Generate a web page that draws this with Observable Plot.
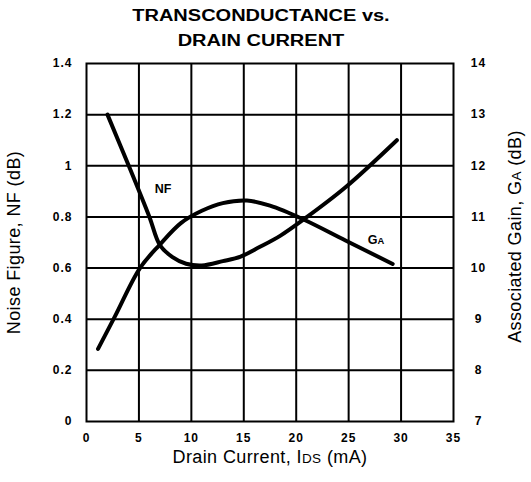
<!DOCTYPE html>
<html>
<head>
<meta charset="utf-8">
<script src="https://cdn.jsdelivr.net/npm/d3@7"></script>
<script src="https://cdn.jsdelivr.net/npm/@observablehq/plot@0.6"></script>
<style>
  body { margin: 0; background: #fff; width: 531px; height: 482px; overflow: hidden;
         font-family: "Liberation Sans", Arial, Helvetica, sans-serif; }
  #title { height: 52px; text-align: center; padding-right: 10px; box-sizing: border-box; }
  #title span { display: inline-block; font-weight: bold; font-size: 16px; line-height: 25px;
                transform: scaleX(1.25); padding-top: 3px; color: #000; }
  #chart svg g[aria-label$="tick label"] { letter-spacing: 1px; }
  #chart svg g.axis-title { letter-spacing: 0.4px; }
</style>
</head>
<body>
<div id="title"><span>TRANSCONDUCTANCE vs.<br>DRAIN CURRENT</span></div>
<div id="chart"></div>
<script>
// ---- data ----
const xTicks  = [0, 5, 10, 15, 20, 25, 30, 35];          // Drain current (mA)
const nfTicks = [0, 0.2, 0.4, 0.6, 0.8, 1.0, 1.2, 1.4];  // Noise figure (dB)
const gaTicks = [7, 8, 9, 10, 11, 12, 13, 14];           // Associated gain (dB)

const nfCurrent = [2, 4.03, 6.0, 7, 8.2, 9.5, 11, 13, 14.7, 16.5, 18.5, 20.7, 24.7, 29.6];
const nfValues  = [1.2, 1.0, 0.8, 0.69, 0.643, 0.617, 0.61, 0.627, 0.645, 0.682, 0.727, 0.79, 0.916, 1.1];

const gaCurrent = [1.1, 2.7, 5.1, 7, 9, 11, 13, 15.3, 17.5, 20.7, 24.7, 29.2];
const gaValues  = [8.42, 9.05, 10.0, 10.46, 10.88, 11.12, 11.27, 11.32, 11.22, 10.95, 10.54, 10.08];

const curveLabels = ["NF", "GA"];
const labelCurrent = [7.3, 27.6];
const labelNF = [0.91, 0.708];

const xTitle = "Drain Current, IDS (mA)";
const yLeftTitle = "Noise Figure, NF (dB)";
const yRightTitle = "Associated Gain, GA (dB)";

// gain (dB) mapped onto the noise-figure scale used by the right axis
const gaToNF = g => (g - 7) / 5;

const nfData = nfCurrent.map((x, i) => ({x, y: nfValues[i]}));
const gaData = gaCurrent.map((x, i) => ({x, ga: gaValues[i]}));
const labelData = curveLabels.map((t, i) => ({t, x: labelCurrent[i], y: labelNF[i]}));

const tickFont = {fontSize: 12, fontWeight: "bold"};
const titleFont = {fontSize: 18, fill: "black", textAnchor: "middle", className: "axis-title"};

const chart = Plot.plot({
  width: 531,
  height: 430,
  marginTop: 11,
  marginBottom: 61,
  marginLeft: 86,
  marginRight: 78,
  x: {domain: [0, 35]},
  y: {domain: [0, 1.4]},
  style: {fontFamily: "'Liberation Sans', Arial, Helvetica, sans-serif", color: "black", background: "white"},
  marks: [
    Plot.ruleX(xTicks.slice(1, -1), {stroke: "black", strokeWidth: 2}),
    Plot.ruleY(nfTicks.slice(1, -1), {stroke: "black", strokeWidth: 2}),
    Plot.frame({stroke: "black", strokeWidth: 2}),
    Plot.axisX(xTicks, {tickSize: 0, tickPadding: 12, label: null, ...tickFont}),
    Plot.axisY(nfTicks, {anchor: "left", tickSize: 0, tickPadding: 14, label: null,
      tickFormat: d => String(d), ...tickFont}),
    Plot.axisY(gaTicks.map(gaToNF), {anchor: "right", tickSize: 0, tickPadding: 25, label: null,
      textAnchor: "middle", tickFormat: d => String(Math.round(d * 5 + 7)), ...tickFont}),
    Plot.line(nfData, {x: "x", y: "y", stroke: "black", strokeWidth: 4, curve: "catmull-rom", strokeLinecap: "round"}),
    Plot.line(gaData, {x: "x", y: d => gaToNF(d.ga), stroke: "black", strokeWidth: 4, curve: "catmull-rom", strokeLinecap: "round"}),
    Plot.text(labelData, {x: "x", y: "y", text: "t", fontSize: 12.5, fontWeight: "bold", fill: "black"}),
    Plot.text([xTitle], {frameAnchor: "bottom", dy: 41, text: d => d, ...titleFont}),
    Plot.text([yLeftTitle], {frameAnchor: "left", dx: -72, rotate: -90, text: d => d, ...titleFont}),
    Plot.text([yRightTitle], {frameAnchor: "right", dx: 62, dy: -6, rotate: -90, text: d => d, ...titleFont})
  ]
});

// small-capital subscripts (IDS, GA)
const rich = {
  [xTitle]: [["Drain Current, I", 1], ["DS", 0.75], [" (mA)", 1]],
  [yRightTitle]: [["Associated Gain, G", 1], ["A", 0.75], [" (dB)", 1]],
  "GA": [["G", 1], ["A", 0.75]]
};
d3.select(chart).selectAll("text").each(function () {
  const parts = rich[this.textContent];
  if (!parts) return;
  const t = d3.select(this);
  t.text(null);
  for (const [s, k] of parts) {
    const ts = t.append("tspan").text(s);
    if (k !== 1) ts.attr("font-size", k + "em");
  }
});

document.getElementById("chart").appendChild(chart);
</script>
</body>
</html>
